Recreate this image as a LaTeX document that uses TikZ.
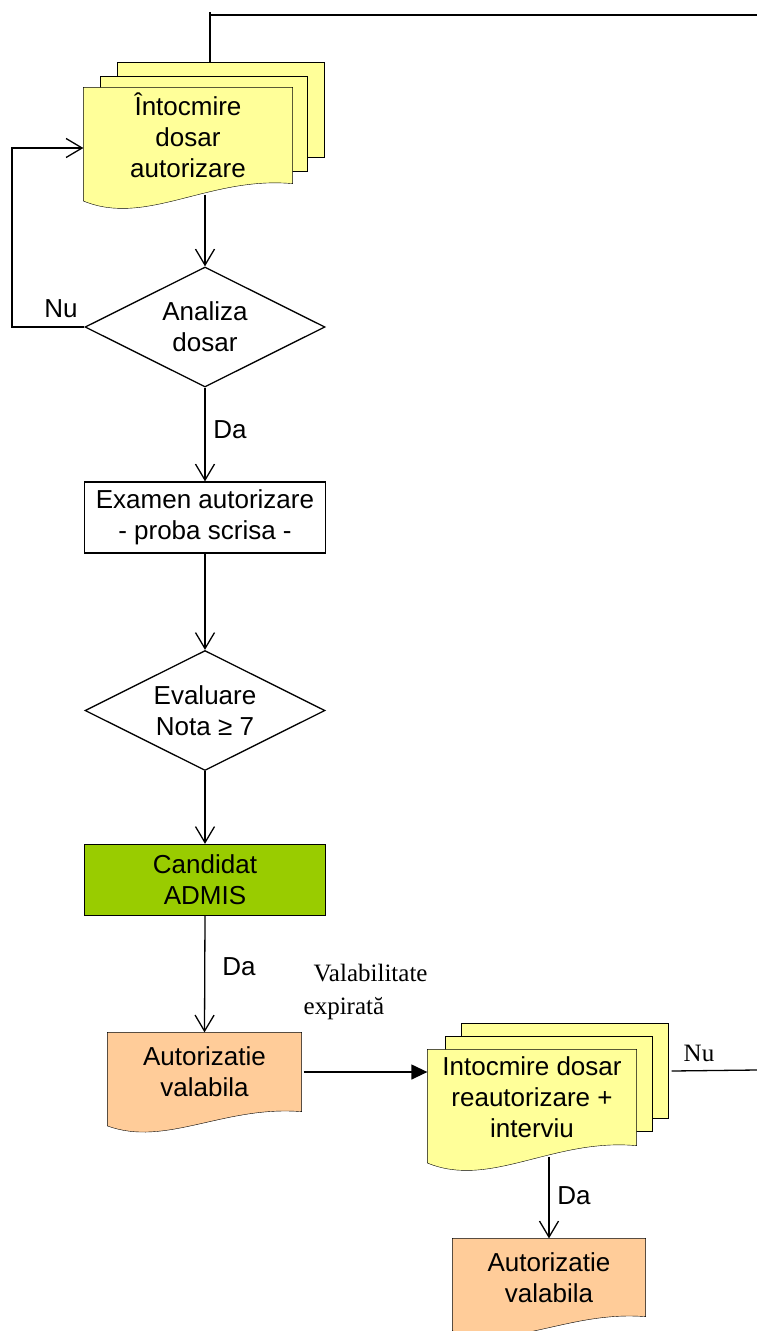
\documentclass[tikz,border=0pt]{standalone}
\usepackage{fontspec}
\setmainfont{Liberation Sans}
\newfontfamily\serifrm{Liberation Serif}
\usetikzlibrary{arrows.meta,shapes.geometric,backgrounds,calc}

\definecolor{docyellow}{HTML}{FFFF99}
\definecolor{docorange}{HTML}{FFCC99}
\definecolor{admisgreen}{HTML}{99CC00}

\tikzset{
  base/.style={font=\fontsize{26}{31}\selectfont, align=center, inner sep=0pt},
  proc/.style={base, draw, rectangle, minimum width=241pt, minimum height=71pt},
  decision/.style={base, draw, diamond, aspect=2, minimum width=240pt, minimum height=120pt},
  paper/.style={base, rectangle, minimum width=208pt, minimum height=95pt},
  sheet/.style={draw, fill=docyellow, rectangle, inner sep=0pt, minimum width=207pt, minimum height=95pt},
  lbl/.style={font=\fontsize{26}{31}\selectfont, inner sep=0pt},
  serlbl/.style={font=\serifrm\fontsize{25}{33}\selectfont, inner sep=0pt},
}

% document sheet with wavy lower edge, drawn round a node
\newcommand{\wavesheet}[2]{%
  \path[draw, fill=#2] let \p1=(#1.south west), \p2=(#1.north east),
    \n1={\x2-\x1}, \n2={\y2-\y1} in
    (\x1,\y2) -- (\x2,\y2) -- (\x2,\y1)
    .. controls (\x1+0.6*\n1,\y1+0.08*\n2) and (\x1+0.3*\n1,\y1-0.45*\n2) ..
    (\x1,\y1-0.18*\n2) -- cycle;}

\begin{document}
\begin{tikzpicture}[x=1pt,y=-1pt,line width=1.3pt,>={Straight Barb[length=16pt,width=19pt]}]
\useasboundingbox (0,0) rectangle (757,1331);
%%
\node (doc1a) [paper] at (188,135.5) {Întocmire\\dosar\\autorizare};
\node (dec1) [decision] at (205,327) {Analiza\\dosar};
\node (exam) [proc] at (205,517.5) {Examen autorizare\\- proba scrisa -};
\node (dec2) [decision] at (205,710.5) {Evaluare\\Nota ≥ 7};
\node (admis) [proc,fill=admisgreen] at (205,880) {Candidat\\ADMIS};
\node (aut1) [paper,minimum width=193pt,minimum height=78pt] at (204.5,1072) {Autorizatie\\valabila};
\node (doc2a) [paper] at (532,1097.5) {Intocmire dosar\\reautorizare +\\interviu};
\node (aut2) [paper,minimum width=192pt,minimum height=77pt] at (549,1277.5) {Autorizatie\\valabila};
%
\begin{scope}[on background layer]
  \node (doc1c) [sheet] at (220.5,110) {};
  \node (doc1b) [sheet] at (204,124) {};
  \wavesheet{doc1a}{docyellow}
  \node (doc2c) [sheet] at (565,1071) {};
  \node (doc2b) [sheet] at (548.5,1084) {};
  \wavesheet{doc2a}{docyellow}
  \wavesheet{aut1}{docorange}
  \wavesheet{aut2}{docorange}
\end{scope}
%
\coordinate (toptee) at (210,12);
\coordinate (topend) at (757,15);
\coordinate (loopc) at (12,148);
\coordinate (rightend) at (757,1070);
%
\node (nu1) [lbl] at (61,309) {Nu};
\node (da1) [lbl] at (230,430) {Da};
\node (da2) [lbl] at (239,967) {Da};
\node (da3) [lbl] at (574,1196) {Da};
\node (nu2) [serlbl] at (699,1053) {Nu};
\node (valid) [serlbl,align=left,anchor=west] at (303,992) {\hspace*{10pt}Valabilitate\\expirată};
%
\draw (doc1c.north -| toptee) -- (toptee);
\draw (toptee |- topend) -- (topend);
\draw [->] ($(doc1a.south -| dec1.north)+(0,11)$) -- (dec1.north);
\draw [->] (dec1.west) -| (loopc) -- (loopc -| doc1a.west);
\draw [->] (dec1.south) -- (exam.north);
\draw [->] (exam.south) -- (dec2.north);
\draw [->] (dec2.south) -- (admis.north);
\draw [->] (admis.south) -- (aut1.north);
\draw [-{Triangle[length=16pt,width=15pt]}] ($(aut1.east)+(2,0)$) -- (aut1.east -| doc2a.west);
\draw ($(doc2c.east)+(3,0)$) -- (rightend);
\draw [->] ($(doc2a.south -| aut2.north)+(0,11)$) -- (aut2.north);
%
\end{tikzpicture}
\end{document}
